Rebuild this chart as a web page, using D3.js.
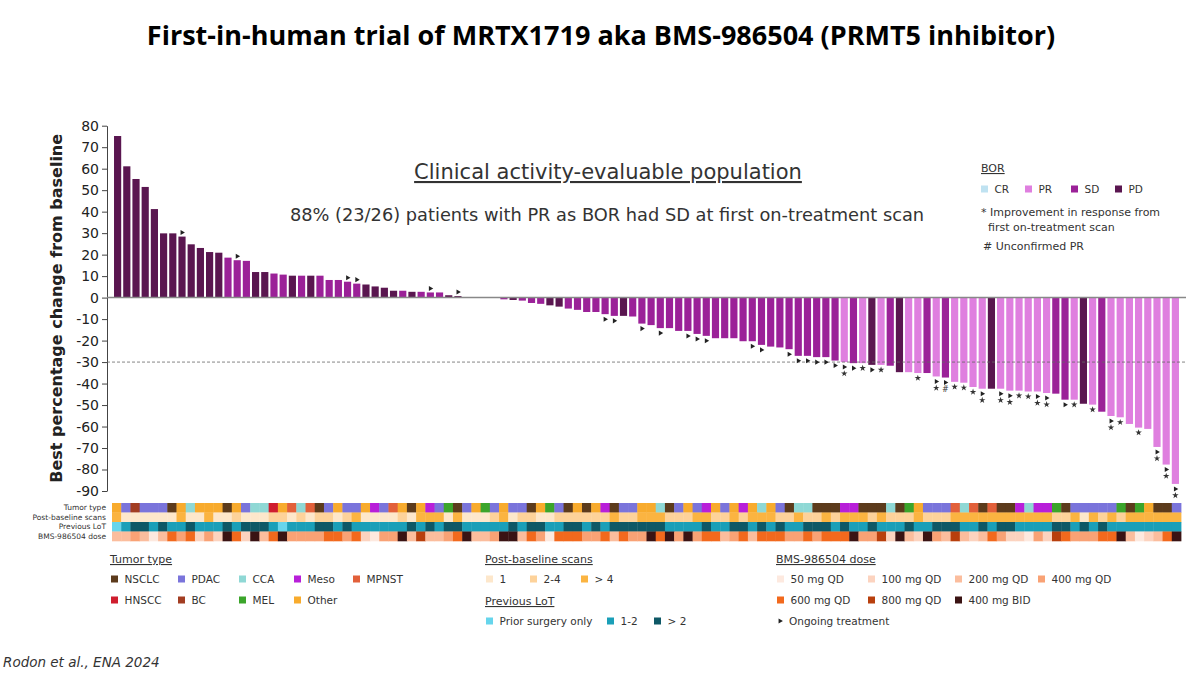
<!DOCTYPE html>
<html>
<head>
<meta charset="utf-8">
<title>MRTX1719 / BMS-986504 waterfall</title>
<script src="https://d3js.org/d3.v7.min.js"></script>
<style>
  body { margin: 0; background: #fff; }
  svg text { font-family: "DejaVu Sans", Verdana, sans-serif; fill: #333; }
</style>
</head>
<body>
<div id="chart"></div>
<script>
// ---- data, one entry per patient in waterfall order ----
const pctChange = [
  75.2, 61.1, 55.2, 51.5, 41.2, 29.9, 29.9, 28.4, 24.8, 23.1,
  21.2, 20.9, 18.6, 17.4, 17.1, 11.9, 11.9, 11.2, 10.7, 10.2,
  10.2, 10.2, 10.2, 8.2, 8.2, 7.4, 6.5, 6.1, 5.2, 4.6,
  3.2, 3.2, 2.7, 2.7, 2.4, 2.4, 1.1, 0.7, 0, 0,
  0, 0, -0.8, -1.1, -1.4, -2.5, -2.9, -3.6, -4.2, -5.1,
  -5.7, -6.7, -6.7, -7.7, -8.5, -8.5, -8.8, -12.1, -12.8, -14.2,
  -14.2, -15.5, -15.5, -16.9, -17.8, -18.9, -18.9, -18.9, -20.3, -20.3,
  -22.0, -22.8, -23.2, -24.0, -27.1, -27.1, -27.7, -27.7, -29.3, -30.0,
  -30.5, -30.5, -31.3, -31.3, -31.7, -34.7, -34.7, -35.1, -35.1, -36.7,
  -37.2, -39.2, -39.6, -41.6, -42.4, -42.4, -42.4, -43.3, -43.3, -43.7,
  -43.7, -44.4, -44.7, -47.5, -47.5, -49.4, -49.8, -53.1, -55.1, -55.7,
  -58.8, -60.5, -61.1, -69.5, -77.7, -86.7
];

const bor = [
  "PD","PD","PD","PD","PD","PD","PD","PD","PD","PD",
  "PD","PD","SD","SD","SD","PD","PD","SD","SD","PD",
  "SD","PD","SD","SD","SD","SD","SD","PD","PD","PD",
  "PD","SD","PD","SD","SD","SD","PD","PD","SD","SD",
  "SD","SD","SD","PD","SD","SD","SD","PD","PD","SD",
  "SD","SD","SD","SD","SD","PD","SD","SD","SD","SD",
  "SD","SD","SD","SD","SD","SD","SD","SD","SD","SD",
  "SD","SD","SD","SD","SD","SD","SD","SD","SD","PR",
  "SD","PR","PD","PR","SD","PD","PR","PR","SD","PR",
  "SD","PR","PR","PR","PR","PD","PR","PR","PR","PR",
  "PR","PR","SD","SD","PR","PD","PR","SD","PR","PR",
  "PR","PR","PR","PR","PR","PR"
];

// patients still on treatment, improved after first scan (*), unconfirmed PR (#)
const ongoing = [7, 13, 25, 26, 34, 37, 53, 54, 57, 59, 62, 63, 64, 69, 70, 73,
  74, 75, 76, 77, 78, 79, 80, 82, 89, 90, 94, 96, 97, 100, 101, 103, 108, 113, 114, 115];
const improved = [79, 81, 83, 87, 89, 91, 92, 93, 94, 96, 97, 98, 99, 100, 101,
  104, 106, 108, 109, 111, 113, 114, 115];
const unconfirmed = [90];

const tumorType = [
  "Other","PDAC","BC","PDAC","PDAC","PDAC","NSCLC","Other","CCA","Other",
  "Other","Other","NSCLC","Other","PDAC","CCA","CCA","HNSCC","Other","MPNST",
  "CCA","MPNST","NSCLC","PDAC","Other","PDAC","PDAC","Other","Meso","PDAC",
  "MPNST","Other","NSCLC","Other","Meso","PDAC","MEL","NSCLC","PDAC","Other",
  "MEL","PDAC","Other","PDAC","PDAC","NSCLC","Other","MEL","PDAC","NSCLC",
  "Other","NSCLC","Other","Meso","NSCLC","PDAC","PDAC","Other","Other","CCA",
  "NSCLC","PDAC","Other","PDAC","Meso","Other","PDAC","Other","Meso","Other",
  "CCA","Other","PDAC","NSCLC","CCA","CCA","NSCLC","NSCLC","NSCLC","Meso",
  "Meso","NSCLC","NSCLC","NSCLC","CCA","NSCLC","MEL","Other","PDAC","PDAC",
  "PDAC","MPNST","CCA","MPNST","NSCLC","MPNST","NSCLC","NSCLC","Meso","CCA",
  "Meso","Meso","MEL","NSCLC","PDAC","PDAC","PDAC","PDAC","PDAC","MEL",
  "NSCLC","MEL","Other","NSCLC","NSCLC","PDAC"
];

const scans = [
  ">4","1","1","1","1","1","1",">4","1","1",
  ">4","1","1","2-4","1","1","1","2-4","2-4","1",
  "2-4","1","2-4","2-4","1","2-4",">4","1","1","1",
  "1","2-4","1",">4",">4",">4","1",">4","1","1",
  "1","2-4",">4","1","2-4","2-4","1","1","2-4","2-4",
  "2-4","2-4","2-4","2-4",">4","2-4","2-4",">4",">4",">4",
  "2-4","2-4","2-4",">4",">4","2-4","2-4",">4","2-4",">4",
  ">4",">4","2-4","2-4",">4","2-4","2-4",">4","2-4",">4",
  ">4",">4","2-4",">4","2-4","2-4","2-4",">4","2-4","2-4",
  "2-4",">4",">4",">4",">4",">4",">4",">4",">4",">4",
  ">4",">4","2-4","2-4",">4","1",">4","2-4",">4","2-4",
  ">4",">4",">4",">4",">4",">4"
];

// previous lines of therapy: S = prior surgery only
const lot = [
  "S","1-2",">2",">2","1-2",">2","1-2","1-2",">2","1-2",
  "1-2","1-2",">2","1-2",">2",">2",">2","1-2","S","1-2",
  "1-2","1-2",">2",">2","1-2",">2","1-2","1-2","1-2","1-2",
  "1-2","1-2",">2","1-2",">2","1-2",">2",">2","1-2","1-2",
  "1-2","1-2","1-2",">2","1-2",">2",">2","1-2","1-2",">2",
  ">2","1-2",">2","1-2",">2",">2",">2",">2",">2",">2",
  "1-2","1-2","1-2","1-2",">2","1-2","1-2",">2",">2","1-2",
  ">2","1-2",">2","1-2","1-2",">2",">2",">2","1-2",">2",
  "1-2","1-2",">2","1-2","1-2","1-2",">2","1-2","1-2",">2",
  ">2",">2","1-2","1-2",">2","1-2",">2",">2","1-2","1-2",
  "1-2","1-2",">2",">2","1-2",">2","1-2",">2","1-2","1-2",
  "1-2","1-2","1-2","1-2","1-2","1-2"
];

const dose = [
  "200","200","400","200","50","200","600","400","600","100",
  "400","100","BID","600","100","BID","200","600","BID","400",
  "400","400","400","600","600","400","600","100","50","400",
  "400","BID","200","800","200","200","400","600","BID","200",
  "200","400","BID","BID","200","600","400","50","600","600",
  "600","400","400","600","200","600","400","400","BID","600",
  "BID","400","BID","400","600","600","200","400","600","200",
  "600","600","600","400","400","600","400","600","600","600",
  "BID","400","400","800","100","BID","200","100","BID","400",
  "200","800","200","100","200","600","400","100","100","50",
  "400","100","800","600","400","400","400","600","600","BID",
  "200","50","100","200","600","BID"
];

// ---- categories, labels and colours ----
const borCats = ["CR", "PR", "SD", "PD"];
const borColors = ["#bfe2f1", "#df7fdf", "#9b2198", "#5a1650"];

const tumorCats = ["NSCLC", "PDAC", "CCA", "Meso", "MPNST", "HNSCC", "BC", "MEL", "Other"];
const tumorColors = ["#5c3b1c", "#7a74db", "#8fd8d5", "#b81fd9", "#e2603a", "#cf1d2e", "#a23d22", "#3ba52b", "#f8ab2d"];

const scanCats = ["1", "2-4", ">4"];
const scanLabels = ["1", "2-4", "> 4"];
const scanColors = ["#fde7cb", "#fdd29a", "#fbb441"];

const lotCats = ["S", "1-2", ">2"];
const lotLabels = ["Prior surgery only", "1-2", "> 2"];
const lotColors = ["#66d5ec", "#1a9fb8", "#0e5866"];

const doseCats = ["50", "100", "200", "400", "600", "800", "BID"];
const doseLabels = ["50 mg QD", "100 mg QD", "200 mg QD", "400 mg QD", "600 mg QD", "800 mg QD", "400 mg BID"];
const doseColors = ["#fde9df", "#fcd3bf", "#fbbd9d", "#f9a275", "#f2691d", "#b83f0d", "#3a1313"];

const yTicks = d3.range(-90, 81, 10);
const rowNames = ["Tumor type", "Post-baseline scans", "Previous LoT", "BMS-986504 dose"];

// ---- svg + scales ----
const svg = d3.select("#chart").append("svg")
  .attr("width", 1200)
  .attr("height", 675);

const ids = d3.range(pctChange.length);
const y = d3.scaleLinear().domain([-90, 80]).range([491, 125.7]);
const x = d3.scaleBand().domain(ids).range([112, 1181]).padding(0.22);
const xCell = d3.scaleBand().domain(ids).range([112, 1181]);
const yRow = d3.scaleBand().domain(rowNames).range([503, 541]);

const borColor = d3.scaleOrdinal(borCats, borColors);
const tumorColor = d3.scaleOrdinal(tumorCats, tumorColors);
const scanColor = d3.scaleOrdinal(scanCats, scanColors);
const lotColor = d3.scaleOrdinal(lotCats, lotColors);
const doseColor = d3.scaleOrdinal(doseCats, doseColors);

// ---- titles ----
svg.append("text")
  .attr("x", 601).attr("y", 45)
  .attr("text-anchor", "middle")
  .style("font-family", "'Open Sans', sans-serif")
  .style("font-weight", 700)
  .style("font-size", "27px")
  .style("fill", "#000")
  .text("First-in-human trial of MRTX1719 aka BMS-986504 (PRMT5 inhibitor)");

svg.append("text")
  .attr("x", 608).attr("y", 179)
  .attr("text-anchor", "middle")
  .style("font-size", "21px")
  .style("text-decoration", "underline")
  .text("Clinical activity-evaluable population");

svg.append("text")
  .attr("x", 607).attr("y", 221)
  .attr("text-anchor", "middle")
  .style("font-size", "17.8px")
  .text("88% (23/26) patients with PR as BOR had SD at first on-treatment scan");

// ---- y axis ----
svg.append("g")
  .attr("transform", "translate(107,0)")
  .call(d3.axisLeft(y).tickValues(yTicks).tickSize(5).tickSizeOuter(0).tickPadding(3).tickFormat(d => d))
  .call(g => g.select(".domain").attr("stroke", "#444"))
  .call(g => g.selectAll(".tick line").attr("stroke", "#444"))
  .call(g => g.selectAll(".tick text")
    .style("font-size", "14px")
    .style("fill", "#222"));

svg.append("text")
  .attr("transform", "translate(62," + y(-5) + ") rotate(-90)")
  .attr("text-anchor", "middle")
  .style("font-size", "16px")
  .style("font-weight", 700)
  .style("fill", "#222")
  .text("Best percentage change from baseline");

// ---- bars ----
svg.append("g").selectAll("rect")
  .data(ids)
  .join("rect")
  .attr("x", i => x(i))
  .attr("width", x.bandwidth())
  .attr("y", i => Math.min(y(pctChange[i]), y(0)))
  .attr("height", i => Math.abs(y(pctChange[i]) - y(0)))
  .attr("fill", i => borColor(bor[i]));

// zero line and -30% line
svg.append("line")
  .attr("x1", 107).attr("x2", 1186)
  .attr("y1", y(0)).attr("y2", y(0))
  .attr("stroke", "#888").attr("stroke-width", 1.5);

svg.append("line")
  .attr("x1", 107).attr("x2", 1186)
  .attr("y1", y(-30)).attr("y2", y(-30))
  .attr("stroke", "#666").attr("stroke-width", 0.8)
  .attr("stroke-dasharray", "3,2");

// ---- markers below/above bars ----
const markers = [];
ids.forEach(i => {
  let stack = [];
  if (ongoing.includes(i)) stack.push("arrow");
  if (improved.includes(i)) stack.push("star");
  if (unconfirmed.includes(i)) stack.push("hash");
  stack.forEach((type, k) => {
    const up = pctChange[i] > 0;
    markers.push({ i: i, type: type, cy: up ? y(pctChange[i]) - 4 - k * 6 : y(pctChange[i]) + 5 + k * 6.5 });
  });
});

const arrow = d3.symbol(d3.symbolTriangle).size(11);
const star = d3.symbol(d3.symbolStar).size(13);

const mk = svg.append("g").selectAll("g")
  .data(markers)
  .join("g")
  .attr("transform", d => "translate(" + (x(d.i) + x.bandwidth() / 2) + "," + d.cy + ")");

mk.filter(d => d.type === "arrow").append("path")
  .attr("d", arrow)
  .attr("transform", "rotate(90)")
  .attr("fill", "#222");

mk.filter(d => d.type === "star").append("path")
  .attr("d", star)
  .attr("fill", "#333");

mk.filter(d => d.type === "hash").append("text")
  .attr("text-anchor", "middle")
  .attr("dy", "0.35em")
  .style("font-size", "8px")
  .text("#");

// ---- heatmap strips ----
const rows = [
  { name: rowNames[0], values: tumorType, color: tumorColor },
  { name: rowNames[1], values: scans, color: scanColor },
  { name: rowNames[2], values: lot, color: lotColor },
  { name: rowNames[3], values: dose, color: doseColor }
];

rows.forEach(r => {
  svg.append("g").selectAll("rect")
    .data(ids)
    .join("rect")
    .attr("x", i => xCell(i))
    .attr("y", yRow(r.name))
    .attr("width", xCell.bandwidth() + 0.4)
    .attr("height", yRow.bandwidth() + 0.3)
    .attr("fill", i => r.color(r.values[i]));

  svg.append("text")
    .attr("x", 106)
    .attr("y", yRow(r.name) + yRow.bandwidth() / 2)
    .attr("dy", "0.35em")
    .attr("text-anchor", "end")
    .style("font-size", "7.5px")
    .text(r.name);
});

// ---- legends ----
function legendHeader(x0, y0, label) {
  svg.append("text")
    .attr("x", x0).attr("y", y0)
    .style("font-size", "11px")
    .style("text-decoration", "underline")
    .text(label);
}

function legendItems(items, xs, ys, perRow, size) {
  const g = svg.append("g").selectAll("g")
    .data(items)
    .join("g")
    .attr("transform", (d, k) => "translate(" + xs[k % perRow] + "," + ys[Math.floor(k / perRow)] + ")");
  g.append("rect")
    .attr("x", 0).attr("y", -size / 2)
    .attr("width", size).attr("height", size)
    .attr("fill", d => d.color);
  g.append("text")
    .attr("x", size + 6.5)
    .attr("dy", "0.36em")
    .style("font-size", "10.5px")
    .text(d => d.label);
}

// BOR legend
legendHeader(981, 172, "BOR");
legendItems(borCats.map((c, k) => ({ label: c, color: borColors[k] })),
  [981, 1025, 1071, 1115], [189], 4, 7);

svg.append("text").attr("x", 981).attr("y", 216)
  .style("font-size", "11px").text("* Improvement in response from");
svg.append("text").attr("x", 988).attr("y", 231)
  .style("font-size", "11px").text("first on-treatment scan");
svg.append("text").attr("x", 983).attr("y", 250)
  .style("font-size", "11px").text("# Unconfirmed PR");

// tumour type
legendHeader(110, 563, "Tumor type");
legendItems(tumorCats.map((c, k) => ({ label: c, color: tumorColors[k] })),
  [111, 178, 239, 294, 353], [579, 600], 5, 7);

// post-baseline scans
legendHeader(485, 563, "Post-baseline scans");
legendItems(scanLabels.map((c, k) => ({ label: c, color: scanColors[k] })),
  [486, 530, 581], [579], 3, 7);

// previous LoT
legendHeader(485, 605, "Previous LoT");
legendItems(lotLabels.map((c, k) => ({ label: c, color: lotColors[k] })),
  [486, 607, 654], [621], 3, 7);

// dose
legendHeader(776, 563, "BMS-986504 dose");
legendItems(doseLabels.map((c, k) => ({ label: c, color: doseColors[k] })),
  [777, 868, 955, 1038], [579, 600], 4, 7);

svg.append("path")
  .attr("d", arrow)
  .attr("transform", "translate(780,621) rotate(90)")
  .attr("fill", "#222");
svg.append("text")
  .attr("x", 789).attr("y", 621)
  .attr("dy", "0.36em")
  .style("font-size", "10.5px")
  .text("Ongoing treatment");

// source
svg.append("text")
  .attr("x", 3).attr("y", 667)
  .style("font-size", "13.5px")
  .style("font-style", "italic")
  .text("Rodon et al., ENA 2024");
</script>
</body>
</html>
